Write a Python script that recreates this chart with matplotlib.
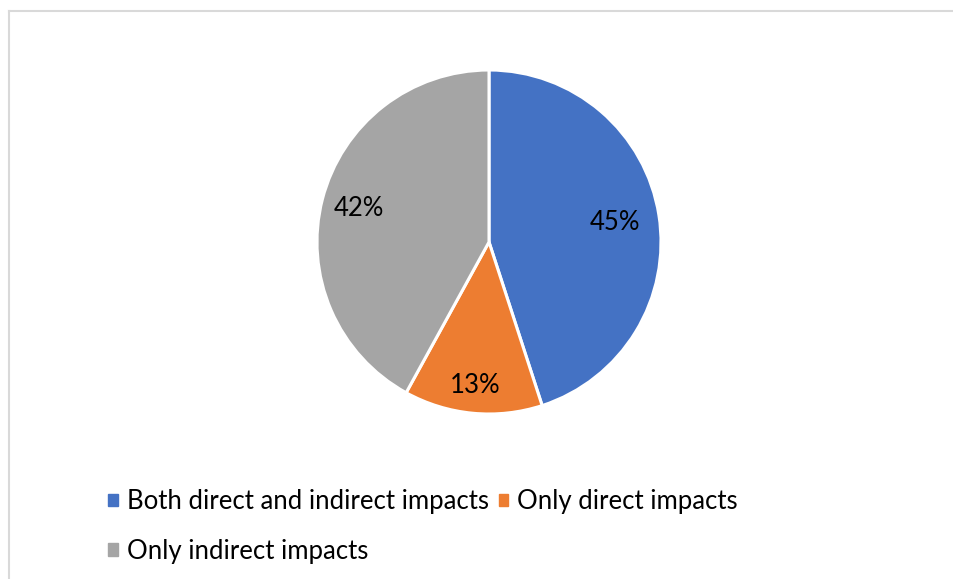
import matplotlib.pyplot as plt
import matplotlib.patches as mpatches
from matplotlib.lines import Line2D
import numpy as np

categories = ['Both direct and indirect impacts', 'Only direct impacts', 'Only indirect impacts']
shares = [45, 13, 42]
colors = ['#4472C4', '#ED7D31', '#A5A5A5']
label_dist = [0.74, 0.84, 0.78]

plt.rcParams['font.family'] = ['Lato', 'DejaVu Sans']

fig = plt.figure(figsize=(9.54, 5.79), dpi=100)

# light grey chart frame (only left and top edges visible)
x0, y0 = 9.5 / 954, 1 - 10.5 / 579
fig.lines.append(Line2D([x0, x0], [-0.05, y0], transform=fig.transFigure,
                        color='#D9D9D9', linewidth=1.5))
fig.lines.append(Line2D([x0, 1.05], [y0, y0], transform=fig.transFigure,
                        color='#D9D9D9', linewidth=1.5))

ax = fig.add_axes([(489 - 172) / 954, (337 - 172) / 579, 344 / 954, 344 / 579])
wedges, _ = ax.pie(shares, colors=colors, startangle=90, counterclock=False,
                   wedgeprops=dict(edgecolor='white', linewidth=2.2))
ax.set_aspect('equal')
ax.set_xlim(-1, 1)
ax.set_ylim(-1, 1)

for w, v, d in zip(wedges, shares, label_dist):
    mid = np.deg2rad((w.theta1 + w.theta2) / 2)
    ax.text(d * np.cos(mid), d * np.sin(mid), f'{v}%', ha='center', va='center',
            fontsize=18.5, color='#000000')

# legend flows like text: row 1 holds first two, row 2 the third
handles = [mpatches.Patch(color=c) for c in colors]
order = [0, 2, 1]
fig.legend([handles[i] for i in order], [categories[i] for i in order],
           ncol=2, loc='upper left', bbox_to_anchor=(98 / 954, 1 - 479 / 579),
           frameon=False, fontsize=18.5, handlelength=0.36, handleheight=0.36,
           handletextpad=0.35, columnspacing=0.4, labelspacing=0.95, borderaxespad=0)

fig.savefig('out.png', dpi=100)
